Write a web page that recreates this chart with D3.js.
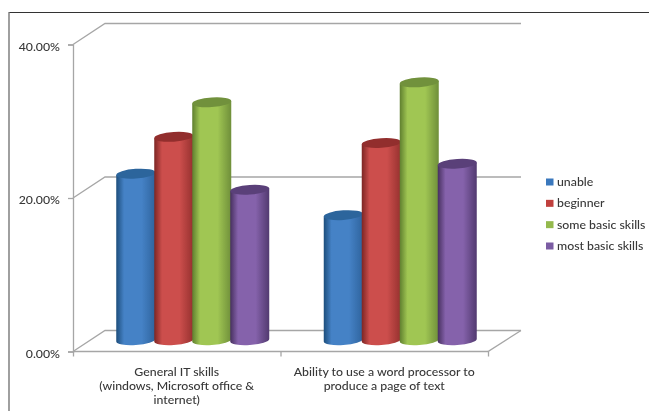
<!DOCTYPE html>
<html>
<head>
	<meta charset="utf-8">
	<script src="https://d3js.org/d3.v7.min.js"></script>
	<style>
		html, body { margin: 0; padding: 0; background: #fff; }
		svg { display: block; filter: blur(0.45px); }
		text { font-family: Lato, "Open Sans", sans-serif; fill: #383838; font-weight: 500; }
	</style>
</head>
<body>
	<svg width="649" height="411"></svg>
	<script>
		const categories = [
			["General IT skills", "(windows, Microsoft office &", "internet)"],
			["Ability to use a word processor to", "produce a page of text"]
		];
		const seriesNames = ["unable", "beginner", "some basic skills", "most basic skills"];
		const unable = [21.8, 16.4];
		const beginner = [26.6, 25.8];
		const someBasic = [31.1, 33.7];
		const mostBasic = [19.7, 23.1];
		const yTicks = [0, 20, 40];

		const seriesValues = [unable, beginner, someBasic, mostBasic];
		const colors = [
			{ edge: "#1d4e7c", main: "#4582c6", side: "#2f649e", top: "#2c659c", key: "#3a78bd" },
			{ edge: "#7d2624", main: "#cc4e4c", side: "#96312f", top: "#922e2d", key: "#c0403d" },
			{ edge: "#5f7f2f", main: "#a0c653", side: "#6f8f3a", top: "#71913c", key: "#94b94d" },
			{ edge: "#47305f", main: "#8562ab", side: "#523a70", top: "#5a4079", key: "#7b5ca3" }
		];

		const svg = d3.select("svg");

		// chart frame
		svg.append("line").attr("x1", 9).attr("x2", 649).attr("y1", 12.5).attr("y2", 12.5)
			.attr("stroke", "#333").attr("stroke-width", 1.2);
		svg.append("line").attr("x1", 9).attr("x2", 9).attr("y1", 12).attr("y2", 411)
			.attr("stroke", "#777").attr("stroke-width", 1.4);

		const front = { left: 73, right: 488, bottom: 351.5, top: 44.5 };
		const depth = { x: 32, y: 21 };

		const y = d3.scaleLinear().domain([0, 40]).range([front.bottom, front.top]);
		const x = d3.scaleBand().domain(d3.range(categories.length)).range([front.left, front.right]);

		const gridColor = "#a6a6a6";
		const grid = svg.append("g").attr("fill", "none").attr("stroke", gridColor).attr("stroke-width", 1.3);

		// back wall gridlines and the slanted bits on the left side
		yTicks.forEach(t => {
			grid.append("path").attr("d", d3.line()([
				[front.left, y(t)],
				[front.left + depth.x, y(t) - depth.y],
				[front.right + depth.x + 1, y(t) - depth.y]
			]));
		});
		// floor
		grid.append("path").attr("d", d3.line()([
			[front.left, y(0)],
			[front.right, y(0)],
			[front.right + depth.x + 1, y(0) - depth.y]
		]));

		// axes
		const yAxis = svg.append("g")
			.attr("transform", `translate(${front.left},0)`)
			.call(d3.axisLeft(y).tickValues(yTicks).tickSize(5).tickPadding(8)
				.tickFormat(d => d3.format(".2f")(d) + "%"));
		yAxis.selectAll("line,path").attr("stroke", gridColor).attr("stroke-width", 1.3);
		yAxis.selectAll("text").attr("font-size", 12.3).attr("dy", "0.45em");
		yAxis.attr("font-family", null);

		const xAxis = svg.append("g")
			.attr("transform", `translate(0,${front.bottom})`)
			.call(d3.axisBottom(d3.scaleLinear().domain([0, categories.length]).range([front.left, front.right]))
				.tickValues(d3.range(categories.length + 1)).tickSize(5).tickFormat(""));
		xAxis.selectAll("path").remove();
		xAxis.selectAll("line").attr("stroke", gridColor).attr("stroke-width", 1.3);

		// category labels
		categories.forEach((lines, i) => {
			const t = svg.append("text").attr("text-anchor", "middle").attr("font-size", 12.3);
			lines.forEach((line, k) => {
				t.append("tspan")
					.attr("x", x(i) + x.bandwidth() / 2)
					.attr("y", 375.5 + k * 14.2)
					.text(line);
			});
		});

		// shading across each cylinder
		const defs = svg.append("defs");
		colors.forEach((c, i) => {
			const g = defs.append("linearGradient").attr("id", "cyl" + i);
			[[0, c.edge], [0.2, c.main], [0.65, c.main], [1, c.side]].forEach(s => {
				g.append("stop").attr("offset", s[0]).attr("stop-color", s[1]);
			});
		});

		const inner = d3.scaleBand().domain(d3.range(seriesNames.length)).range([-76.5, 75.5]);
		const barW = inner.bandwidth() + 1;
		const ry = 4.8, tilt = 1.3;

		categories.forEach((_, i) => {
			seriesValues.forEach((vals, s) => {
				const xl = x(i) + x.bandwidth() / 2 + depth.x / 2 + inner(s);
				const xr = xl + barW;
				const yt = y(vals[i]) - depth.y / 2;
				const yb = y(0) - depth.y / 2 - 0.8;
				const arc = sweep => `A${barW / 2},${ry} -4 0 ${sweep} `;
				svg.append("path")
					.attr("fill", `url(#cyl${s})`)
					.attr("d", `M${xl},${yt + tilt}L${xl},${yb + tilt}` + arc(0) + `${xr},${yb - tilt}L${xr},${yt - tilt}Z`);
				svg.append("path")
					.attr("fill", colors[s].top)
					.attr("d", `M${xl},${yt + tilt}` + arc(1) + `${xr},${yt - tilt}` + arc(1) + `${xl},${yt + tilt}Z`);
			});
		});

		// legend
		const legendY = d3.scalePoint().domain(seriesNames).range([182, 246]);
		seriesNames.forEach((name, i) => {
			svg.append("rect").attr("x", 546).attr("y", legendY(name) - 3.5)
				.attr("width", 7.5).attr("height", 7).attr("fill", colors[i].key);
			svg.append("text").attr("x", 557).attr("y", legendY(name) + 4)
				.attr("font-size", 12.3).text(name);
		});
	</script>
</body>
</html>
